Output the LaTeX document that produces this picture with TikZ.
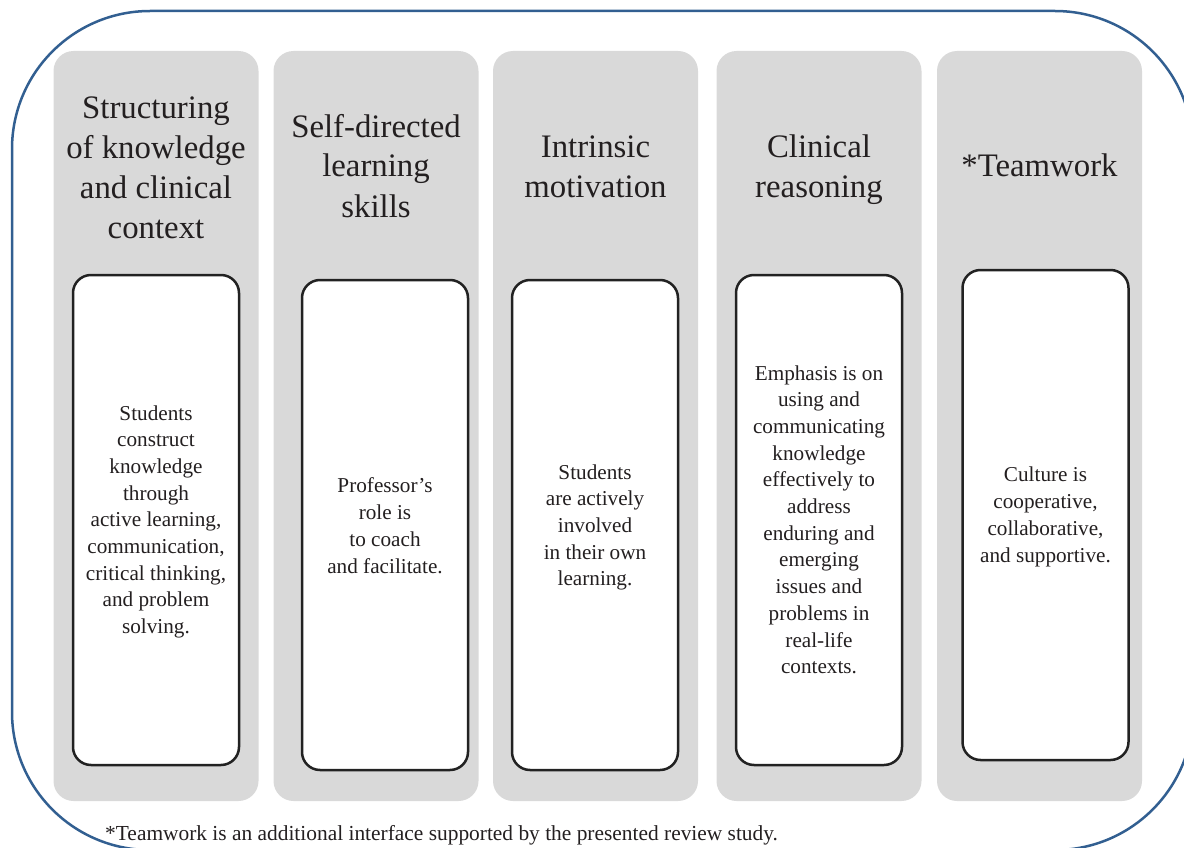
\documentclass[tikz,border=0pt]{standalone}
\usepackage{fontspec}
\setmainfont{Liberation Serif}
\definecolor{frameblue}{RGB}{50,95,145}
\definecolor{colgrey}{RGB}{217,217,217}
\definecolor{ink}{RGB}{35,31,32}
\definecolor{boxline}{RGB}{34,34,34}
\begin{document}
\begin{tikzpicture}[x=1pt,y=-1pt,
  frame/.style={draw=frameblue, line width=2.5pt, rounded corners=138pt, inner sep=0pt},
  colbox/.style={fill=colgrey, draw=none, rounded corners=20pt, inner sep=0pt,
    minimum width=205pt, minimum height=750pt},
  inbox/.style={fill=white, draw=boxline, line width=2.5pt, rounded corners=18pt, inner sep=0pt,
    minimum width=166pt, minimum height=490pt},
  title/.style={anchor=base, align=center, text=ink, inner sep=0pt,
    font=\fontsize{32.8}{40}\selectfont},
  body/.style={anchor=base, align=center, text=ink, inner sep=0pt,
    font=\fontsize{21.2}{26.7}\selectfont},
  note/.style={anchor=base west, text=ink, inner sep=0pt,
    font=\fontsize{21.4}{26.7}\selectfont}]
\useasboundingbox (0,0) rectangle (1184,848);
\clip (0,0) rectangle (1184,848);
\node[frame, minimum width=1181pt, minimum height=839pt] (frame) at (602.5,430.5) {};
% columns
\node[colbox] (c1) at (156,426) {};
\node[colbox] (c2) at (376,426) {};
\node[colbox] (c3) at (595.5,426) {};
\node[colbox] (c4) at (819,426) {};
\node[colbox] (c5) at (1039.5,426) {};
% inner boxes
\node[inbox] (i1) at (156,520) {};
\node[inbox] (i2) at (385,525) {};
\node[inbox] (i3) at (595,525) {};
\node[inbox] (i4) at (819,520) {};
\node[inbox] (i5) at (1045.5,515) {};
% titles (anchored at the baseline of the last line)
\node[title] (t1) at (156,238) {Structuring\\of knowledge\\and clinical\\context};
\node[title] (t2) at (376,217) {Self-directed\\learning\\skills};
\node[title] (t3) at (595.5,197) {Intrinsic\\motivation};
\node[title] (t4) at (819,197) {Clinical\\reasoning};
\node[title] (t5) at (1039.5,177) {*Teamwork};
% body texts (anchored at the baseline of the last line)
\node[body] (b1) at (156,633.6) {Students\\construct\\knowledge\\through\\active learning,\\communication,\\critical thinking,\\and problem\\solving.};
\node[body] (b2) at (385,573) {Professor’s\\role is\\to coach\\and facilitate.};
\node[body] (b3) at (595,585.8) {Students\\are actively\\involved\\in their own\\learning.};
\node[body] (b4) at (819,673.7) {Emphasis is on\\using and\\communicating\\knowledge\\effectively to\\address\\enduring and\\emerging\\issues and\\problems in\\real-life\\contexts.};
\node[body] (b5) at (1045.5,562) {Culture is\\cooperative,\\collaborative,\\and supportive.};
% footnote
\node[note] (fn) at (105,840) {*Teamwork is an additional interface supported by the presented review study.};
\end{tikzpicture}
\end{document}
